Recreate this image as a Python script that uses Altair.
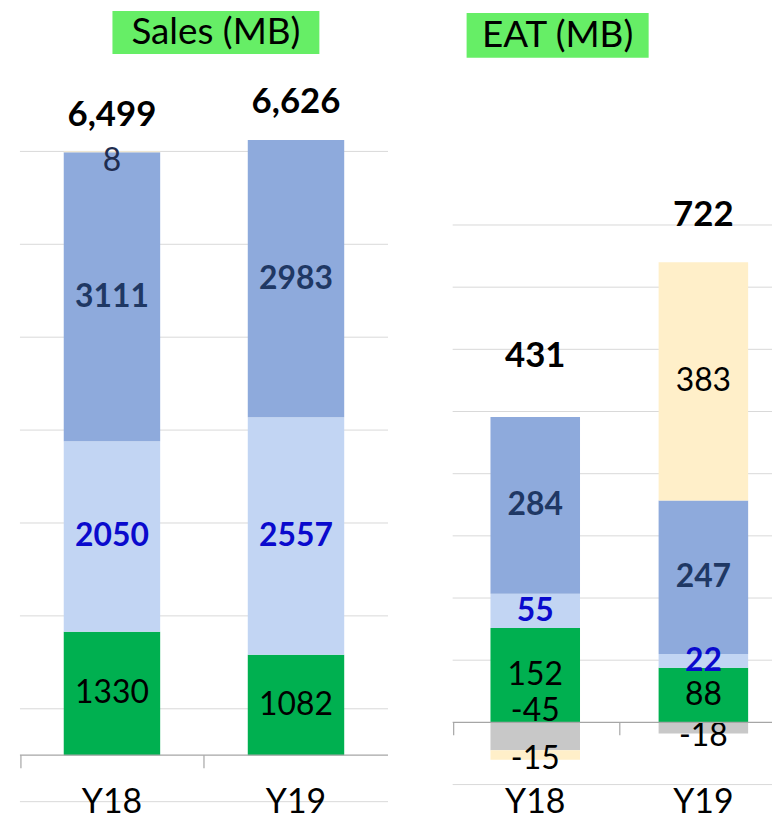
import altair as alt
import pandas as pd

years = ["Y18", "Y19"]
series = ["Green", "Light blue", "Blue", "Grey", "Other"]
colors = ["#00B050", "#C2D5F3", "#8EAADC", "#C8C8C8", "#FFEFC9"]

sales_green = [1330, 1082]
sales_light = [2050, 2557]
sales_blue = [3111, 2983]
sales_grey = [0, 0]
sales_other = [8, 0]
sales_totals = [6499, 6626]

eat_green = [152, 88]
eat_light = [55, 22]
eat_blue = [284, 247]
eat_grey = [-45, -18]
eat_other = [-15, 383]
eat_totals = [431, 722]

sales_grid = [-500, 500, 1500, 2500, 3500, 4500, 5500, 6500]
eat_grid = [-100, 100, 200, 300, 400, 500, 600, 700, 800]

FONT = "Lato"
H = 804


def long_df(cols):
    rows = []
    for i, y in enumerate(years):
        for j, s in enumerate(series):
            v = cols[j][i]
            rows.append({"year": y, "series": s, "value": v, "order": j,
                         "label": str(v)})
    return pd.DataFrame(rows)


def totals_df(cols, totals):
    rows = []
    for i, y in enumerate(years):
        top = sum(c[i] for c in cols if c[i] > 0)
        rows.append({"year": y, "top": top, "total": totals[i]})
    return pd.DataFrame(rows)


def panel(cols, totals, grid, domain, width, pad_inner, pad_outer, align,
          title, box, special, total_dy, tick_x, axis_y):
    df = long_df(cols)
    tdf = totals_df(cols, totals)
    ys = alt.Scale(domain=domain, nice=False, zero=False)
    xs = alt.Scale(domain=years, paddingInner=pad_inner, paddingOuter=pad_outer, align=align)
    base = alt.Chart(df)

    gridlines = alt.Chart(pd.DataFrame({"v": grid})).mark_rule(
        color="#D9D9D9", strokeWidth=1
    ).encode(y=alt.Y("v:Q", scale=ys, axis=None), x=alt.value(0), x2=alt.value(width))

    bars = base.transform_filter("datum.value != 0").mark_bar().encode(
        x=alt.X("year:N", scale=xs, axis=None),
        y=alt.Y("value:Q", scale=ys, axis=None, stack="zero"),
        color=alt.Color("series:N", scale=alt.Scale(domain=series, range=colors), legend=None),
        order=alt.Order("order:Q", sort="ascending"),
    )

    stacked = base.transform_stack(
        stack="value", groupby=["year"], as_=["v0", "v1"],
        sort=[alt.SortField("order", "ascending")]
    ).transform_calculate(mid="(datum.v0 + datum.v1) / 2").transform_filter("datum.value != 0")

    def seg_text(flt, color, weight, dy=0):
        return stacked.transform_filter(flt).mark_text(
            font=FONT, fontSize=32, fontWeight=weight, color=color,
            baseline="middle", align="center", dy=dy
        ).encode(
            x=alt.X("year:N", scale=xs, axis=None),
            y=alt.Y("mid:Q", scale=ys, axis=None),
            text="label:N",
        )

    layers = [gridlines, bars]
    layers.append(seg_text("datum.series == 'Blue'", "#1F3864", "bold"))
    layers.append(seg_text("datum.series == 'Light blue'", "#0A0ACD", "bold"))
    sp_filters = []
    for (s, y, dy, col) in special:
        f = f"datum.series == '{s}' && datum.year == '{y}'"
        sp_filters.append(f)
        layers.append(seg_text(f, col, "normal", dy))
    normal_f = "(datum.series == 'Green' || datum.series == 'Grey' || datum.series == 'Other')"
    for f in sp_filters:
        normal_f += f" && !({f})"
    layers.append(seg_text(normal_f, "#000000", "normal"))

    for i, y in enumerate(years):
        layers.append(alt.Chart(tdf).transform_filter(f"datum.year == '{y}'").mark_text(
            font=FONT, fontSize=35, fontWeight="bold", color="#000000",
            baseline="middle", align="center", dy=total_dy[i]
        ).encode(
            x=alt.X("year:N", scale=xs, axis=None),
            y=alt.Y("top:Q", scale=ys, axis=None),
            text=alt.Text("total:Q", format=","),
        ))

    # category axis line, ticks and labels
    layers.append(alt.Chart(pd.DataFrame({"z": [0]})).mark_rule(color="#A6A6A6", strokeWidth=1.2).encode(
        y=alt.Y("z:Q", scale=ys, axis=None), x=alt.value(0), x2=alt.value(width)))
    for tx in tick_x:
        layers.append(alt.Chart(pd.DataFrame({"z": [0]})).mark_rule(color="#A6A6A6", strokeWidth=1.2).encode(
            x=alt.value(tx), y=alt.value(axis_y), y2=alt.value(axis_y + 13)))
    layers.append(alt.Chart(pd.DataFrame({"year": years})).mark_text(
        font=FONT, fontSize=34, color="#000000", baseline="middle", align="center"
    ).encode(x=alt.X("year:N", scale=xs, axis=None), y=alt.value(797), text="year:N"))

    # title box
    tdf2 = pd.DataFrame({"t": [title]})
    layers.append(alt.Chart(tdf2).mark_rect(color="#66EE66").encode(
        x=alt.value(box[0]), x2=alt.value(box[1]), y=alt.value(box[2]), y2=alt.value(box[3])))
    layers.append(alt.Chart(tdf2).mark_text(
        font=FONT, fontSize=37, color="#000000", baseline="middle", align="center"
    ).encode(x=alt.value((box[0] + box[1]) / 2), y=alt.value((box[2] + box[3]) / 2 + 1), text="t:N"))

    return alt.layer(*layers).properties(width=width, height=H)


sales = panel(
    [sales_green, sales_light, sales_blue, sales_grey, sales_other], sales_totals,
    sales_grid, [-589, 8021], 370, 0.476, 0.238, 0.5,
    "Sales (MB)", (93, 301, 1, 44),
    [("Other", "Y18", 9, "#1F2D50")],
    [-37, -38], [1, 185], 749,
)

eat = panel(
    [eat_green, eat_light, eat_blue, eat_grey, eat_other], eat_totals,
    eat_grid, [-140.8, 1145.6], 321, 0.4675, 0.1834, 0.613,
    "EAT (MB)", (14, 197, 3, 48),
    [("Grey", "Y18", -25, "#000000"), ("Other", "Y18", 4, "#000000"), ("Grey", "Y19", 8, "#000000")],
    [-61, -47], [1, 168], 716,
)

chart = alt.hconcat(sales, eat, spacing=63).properties(
    padding={"left": 11, "top": 0, "right": 0, "bottom": 0}
).configure_view(stroke=None)

chart.save("out.html", embed_options={"renderer": "svg", "actions": False})
